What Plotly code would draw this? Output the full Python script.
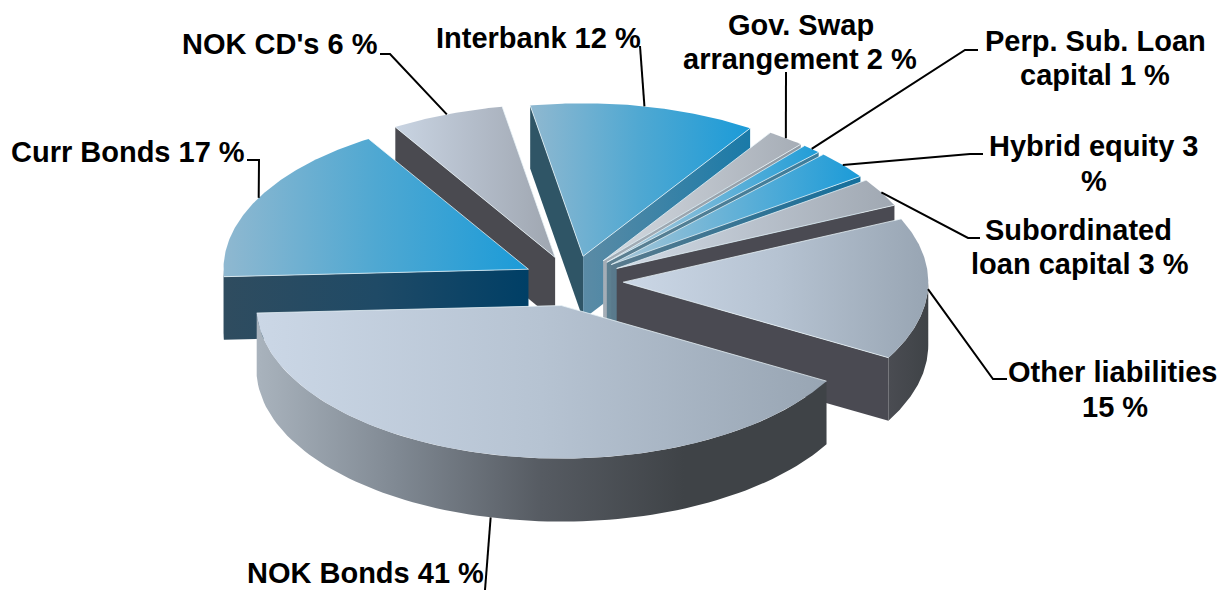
import numpy as np
import plotly.graph_objects as go

# Liabilities split, listed clockwise from the top of the pie
categories = ["Interbank", "Gov. Swap arrangement", "Perp. Sub. Loan capital", "Hybrid equity",
              "Subordinated loan capital", "Other liabilities", "NOK Bonds", "Curr Bonds", "NOK CD's"]
shares = [12, 2, 1, 3, 3, 15, 41, 17, 6]
label_lines = [["Interbank 12 %"], ["Gov. Swap", "arrangement 2 %"], ["Perp. Sub. Loan", "capital 1 %"],
               ["Hybrid equity 3", "%"], ["Subordinated", "loan capital 3 %"], ["Other liabilities", "15 %"],
               ["NOK Bonds 41 %"], ["Curr Bonds 17 %"], ["NOK CD's 6 %"]]

# Pixel-space pie geometry
CX, CY, RX, RY, DEPTH, EXPLODE, START_DEG = 573, 281, 305, 153, 63, 0.165, -10.0

# Per-slice colours: top gradient, rim gradient, start-edge face, end-edge face
GREY_TOP = ["#cbd7e6", "#b6c3d2", "#98a5b3"]
BLUE_TOP = ["#8fb8d0", "#4fa8d2", "#1b9bd8"]
styles = {
    "Interbank": dict(top=BLUE_TOP, rim=["#2f5566", "#2f5566"], a=["#2f5566", "#2f5566"], b=["#5b8ba5", "#1a7aa8"]),
    "Gov. Swap arrangement": dict(top=["#d3d9e0", "#a6adb6"], rim=["#8f99a3", "#8f99a3"], a=["#5c6670", "#5c6670"], b=["#a4aeb7", "#8f99a3"]),
    "Perp. Sub. Loan capital": dict(top=["#b9ccd8", "#1f9dd8"], rim=["#5d7f90", "#5d7f90"], a=["#5d7f90", "#5d7f90"], b=["#5d7f90", "#3c7d9c"]),
    "Hybrid equity": dict(top=["#a9c6d6", "#1b9bd8"], rim=["#5d7f90", "#5d7f90"], a=["#5d7f90", "#5d7f90"], b=["#5a7a8c", "#146f9c"]),
    "Subordinated loan capital": dict(top=["#d1dae5", "#a0a8b2"], rim=["#4a4a52", "#4a4a52"], a=["#4a4a52", "#4a4a52"], b=["#4a4a52", "#4a4a52"]),
    "Other liabilities": dict(top=GREY_TOP, rim=["#4a4c52", "#3f4347"], a=["#4a4a52", "#4a4a52"], b=["#4a4a52", "#4a4a52"]),
    "NOK Bonds": dict(top=GREY_TOP, rim=["#a9b3bd", "#7f8892", "#565b62", "#3f4347", "#3f4347"], a=["#4a4a52", "#4a4a52"], b=["#4a4a52", "#4a4a52"]),
    "Curr Bonds": dict(top=BLUE_TOP, rim=["#2f4c5f", "#2f4c5f"], a=["#2f4c5f", "#1f4a66", "#003f66"], b=["#2f4c5f", "#2f4c5f"]),
    "NOK CD's": dict(top=["#c9d4e2", "#b3bcc9", "#9fa6b0"], rim=["#4a4a50", "#4a4a50"], a=["#4a4a50", "#4a4a50"], b=["#4a4a50", "#4a4a50"]),
}
paint_order = ["NOK CD's", "Interbank", "Gov. Swap arrangement", "Perp. Sub. Loan capital", "Hybrid equity",
               "Subordinated loan capital", "Other liabilities", "Curr Bonds", "NOK Bonds"]

# Text centres for each label line and the bent part of each leader
label_pos = {
    "Interbank": [(538, 38)], "Gov. Swap arrangement": [(801, 25), (800, 59)],
    "Perp. Sub. Loan capital": [(1095, 41), (1095, 75)], "Hybrid equity": [(1094, 146), (1094, 181)],
    "Subordinated loan capital": [(1078, 230), (1080, 264)], "Other liabilities": [(1113, 372), (1115, 407)],
    "NOK Bonds": [(365, 573)], "Curr Bonds": [(128, 152)], "NOK CD's": [(280, 44)],
}
leader_bends = {
    "Interbank": [(640, 46)], "Gov. Swap arrangement": [(786, 72)],
    "Perp. Sub. Loan capital": [(965, 50), (978, 50)], "Hybrid equity": [(970, 154), (983, 154)],
    "Subordinated loan capital": [(968, 238), (980, 238)], "Other liabilities": [(993, 379), (1007, 379)],
    "NOK Bonds": [(485, 590)], "Curr Bonds": [(259, 160), (247, 160)], "NOK CD's": [(390, 54), (380, 54)],
}

degrees = np.array(shares) / sum(shares) * 360
ends = START_DEG + np.cumsum(degrees)
starts = ends - degrees
geometry = {c: (s, e) for c, s, e in zip(categories, starts, ends)}


def apex(name):
    s, e = geometry[name]
    m = np.radians((s + e) / 2)
    return CX + EXPLODE * RX * np.sin(m), CY - EXPLODE * RY * np.cos(m)


def rim(name, deg):
    ax, ay = apex(name)
    t = np.radians(deg)
    return ax + RX * np.sin(t), ay - RY * np.cos(t)


def gradient(colours):
    steps = np.linspace(0, 1, len(colours))
    return dict(type="horizontal", colorscale=[[float(p), c] for p, c in zip(steps, colours)])


def polygon(xs, ys, colours, name):
    return go.Scatter(x=list(xs), y=list(ys), mode="lines", line=dict(width=0), fill="toself",
                      fillgradient=gradient(colours), hoverinfo="skip", showlegend=False, name=name)


fig = go.Figure()
for name in paint_order:
    st, en = geometry[name]
    style = styles[name]
    ax, ay = apex(name)

    # Cut faces along the radial edges that turn toward the viewer
    for deg, key, facing in ((st, "a", np.sin(np.radians(st)) < 0), (en, "b", np.sin(np.radians(en)) > 0)):
        if facing:
            rx, ry = rim(name, deg)
            fig.add_trace(polygon([ax, rx, rx, ax, ax], [ay, ry, ry + DEPTH, ay + DEPTH, ay], style[key], name))

    # Outer wall, only where the rim faces the viewer
    lo, hi = max(st, 90.0), min(en, 270.0)
    if hi > lo:
        arc = np.linspace(lo, hi, 90)
        wx, wy = rim(name, arc)
        fig.add_trace(polygon(np.r_[wx, wx[::-1], wx[0]], np.r_[wy, wy[::-1] + DEPTH, wy[0]], style["rim"], name))

    # Top surface
    arc = np.linspace(st, en, max(8, int(en - st) * 2))
    tx, ty = rim(name, arc)
    fig.add_trace(polygon(np.r_[ax, tx, ax], np.r_[ay, ty, ay], style["top"], name))

    # Light highlight along the radial edges
    rsx, rsy = rim(name, st)
    rex, rey = rim(name, en)
    fig.add_trace(go.Scatter(x=[rsx, ax, rex], y=[rsy, ay, rey], mode="lines",
                             line=dict(color="rgba(235,245,250,0.75)", width=1),
                             hoverinfo="skip", showlegend=False))

# Leader lines start on the rim at each slice's mid-angle
for name in categories:
    st, en = geometry[name]
    mid = (st + en) / 2
    sx, sy = rim(name, mid)
    if name == "NOK Bonds":
        sy += DEPTH
    bx, by = zip(*leader_bends[name])
    fig.add_trace(go.Scatter(x=[sx, *bx], y=[sy, *by], mode="lines", line=dict(color="black", width=2),
                             hoverinfo="skip", showlegend=False))

annotations = []
for name, lines in zip(categories, label_lines):
    for text, (x, y) in zip(lines, label_pos[name]):
        annotations.append(dict(x=x, y=y, xref="x", yref="y", text=f"<b>{text}</b>", showarrow=False,
                                xanchor="center", yanchor="middle",
                                font=dict(family="Liberation Sans", size=29, color="black")))

fig.update_layout(
    width=1229, height=591, margin=dict(l=0, r=0, t=0, b=0), autosize=False,
    paper_bgcolor="white", plot_bgcolor="white", showlegend=False, annotations=annotations,
    xaxis=dict(range=[0, 1229], visible=False, fixedrange=True),
    yaxis=dict(range=[591, 0], visible=False, fixedrange=True),
)
fig.write_html("out.html", config=dict(displayModeBar=False))
